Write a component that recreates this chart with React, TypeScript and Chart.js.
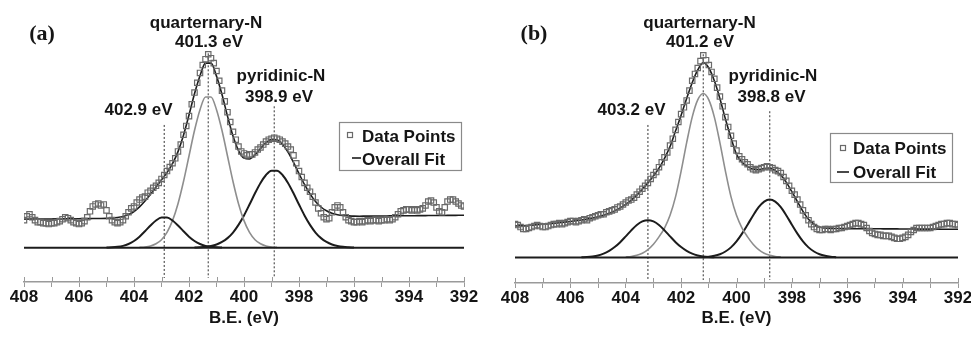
import React, { useEffect, useRef } from 'react';
import { Chart, registerables } from 'chart.js';

Chart.register(...registerables);

// ---------- axis ----------
const tickValues = [408, 407, 406, 405, 404, 403, 402, 401, 400, 399, 398, 397, 396, 395, 394, 393, 392];
const tickLabels = ['408', '406', '404', '402', '400', '398', '396', '394', '392'];
const axisTitle = 'B.E. (eV)';

// ---------- panel (a) ----------
// data points, every 0.1 eV from 408.0 down to 392.0
const dataA = [
  28, 32, 34, 31, 28, 26, 26, 25, 25, 24,
  25, 25, 26, 27, 29, 31, 30, 28, 26, 25,
  24, 25, 27, 31, 37, 42, 44, 45, 43, 44,
  38, 32, 28, 26, 25, 26, 28, 32, 36, 40,
  42, 46, 49, 51, 52, 56, 58, 61, 63, 66,
  70, 74, 78, 82, 86, 91, 98, 105, 115, 124,
  134, 146, 158, 168, 178, 186, 192, 197, 193, 188,
  180, 170, 160, 149, 138, 128, 118, 110, 103, 98,
  96, 94, 95, 95, 97, 100, 102, 105, 108, 110,
  111, 112, 111, 110, 108, 106, 103, 100, 94, 86,
  78, 72, 66, 61, 57, 52, 46, 40, 35, 31,
  29, 30, 36, 41, 43, 41, 36, 31, 28, 27,
  26, 26, 27, 26, 27, 28, 27, 28, 28, 27,
  28, 28, 29, 28, 29, 31, 34, 37, 38, 39,
  39, 38, 39, 38, 39, 40, 43, 47, 48, 46,
  41, 37, 36, 41, 47, 49, 49, 47, 45, 43,
  42,
];
// overall fit, every 0.2 eV from 408.0 down to 392.0
const fitA = [
  29.0, 29.05, 29.1, 29.15, 29.2, 29.25, 29.3, 29.35, 29.4, 29.45,
  29.5, 29.55, 29.6, 29.65, 29.7, 29.85, 30.1, 30.65, 31.7, 33.65,
  36.8, 41.55, 47.5, 54.45, 61.8, 68.95, 76.4, 85.55, 97.8, 114.55,
  135.1, 156.85, 175.2, 188.0, 188.0, 174.75, 156.0, 133.95, 113.7, 98.95,
  91.3, 90.45, 94.6, 100.95, 106.9, 110.35, 110.0, 105.35, 97.3, 86.85,
  75.4, 64.35, 54.8, 47.05, 41.4, 37.55, 35.0, 33.55, 32.7, 32.35,
  32.1, 32.05, 32.1, 32.15, 32.2, 32.25, 32.3, 32.35, 32.4, 32.45,
  32.5, 32.55, 32.6, 32.65, 32.7, 32.75, 32.8, 32.85, 32.9, 32.95,
  33.0,
];
// fitted components, every 0.2 eV from the given start energy
const compA1Start = 405.0; // 402.9 eV peak
const compA1 = [0.1, 0.3, 0.8, 1.8, 3.7, 6.8, 11.2, 16.7, 22.6, 27.7, 30.6, 30.6, 27.7, 22.6, 16.7, 11.2, 6.8, 3.7, 1.8, 0.8, 0.3, 0.1];
const compA2Start = 403.8; // quarternary-N
const compA2 = [0.3, 0.7, 1.7, 3.9, 8.1, 15.5, 27.5, 44.8, 67.4, 93.4, 119.3, 140.5, 153.5, 153.5, 140.5, 119.3, 93.4, 67.4, 44.8, 27.5, 15.5, 8.1, 3.9, 1.7, 0.7, 0.3];
const compA3Start = 401.8; // pyridinic-N
const compA3 = [0.2, 0.4, 0.8, 1.7, 3.2, 5.8, 9.7, 15.4, 23.2, 32.8, 43.9, 55.4, 65.9, 74.0, 78.4, 78.4, 74.0, 65.9, 55.4, 43.9, 32.8, 23.2, 15.4, 9.7, 5.8, 3.2, 1.7, 0.8, 0.4, 0.2];
const peaksA = [402.9, 401.3, 398.9];
const peakTopsA = [125, 198, 144];
const dropBottomA = -31;

// ---------- panel (b) ----------
const dataB = [
  34, 33, 31, 29, 29, 30, 31, 32, 33, 32,
  31, 31, 32, 33, 34, 34, 35, 34, 35, 36,
  37, 37, 36, 37, 38, 39, 38, 40, 41, 42,
  43, 44, 44, 46, 47, 48, 49, 51, 52, 54,
  56, 58, 59, 61, 64, 67, 70, 73, 76, 80,
  84, 87, 92, 97, 102, 107, 114, 121, 130, 138,
  146, 153, 160, 170, 180, 187, 193, 200, 206, 201,
  196, 189, 182, 173, 164, 154, 143, 133, 124, 116,
  109, 103, 100, 97, 95, 92, 90, 89, 90, 91,
  92, 93, 92, 91, 89, 88, 86, 82, 78, 73,
  68, 64, 59, 54, 48, 43, 38, 34, 31, 29,
  28, 28, 29, 29, 28, 29, 29, 30, 30, 31,
  32, 33, 34, 35, 35, 34, 33, 30, 27, 25,
  24, 23, 23, 22, 22, 22, 21, 20, 19, 19,
  20, 21, 23, 26, 28, 30, 30, 30, 30, 30,
  30, 31, 32, 33, 34, 34, 35, 35, 34, 34,
  33,
];
const fitB = [
  32, 32.3, 32.6, 33, 33.4, 33.8, 34.3, 34.8, 35.4, 36,
  36.7, 37.4, 38.2, 39.1, 40.2, 41.5, 43, 45, 47.5, 50.5,
  54, 58.5, 63.5, 69.5, 76, 83, 91, 101, 113, 129,
  145, 162, 178, 191, 198.5, 193, 180, 162, 141, 122,
  105, 97, 92.5, 90, 89.5, 90.5, 91, 88.5, 84, 76.5,
  67, 57, 47, 39, 34, 31, 30, 29.6, 29.5, 29.4,
  29.4, 29.3, 29.3, 29.3, 29.2, 29.2, 29.2, 29.1, 29.1, 29.1,
  29.0, 29.0, 29.0, 28.9, 28.9, 28.9, 28.9, 28.8, 28.8, 28.8,
  28.8,
];
const compB1Start = 405.6; // 403.2 eV peak
const compB1 = [0.2, 0.5, 1.1, 2.1, 3.9, 6.7, 10.6, 15.6, 21.5, 27.6, 33.0, 36.7, 38.0, 36.7, 33.0, 27.6, 21.5, 15.6, 10.6, 6.7, 3.9, 2.1, 1.1, 0.5, 0.2];
const compB2Start = 404.0; // quarternary-N
const compB2 = [0.4, 1.0, 2.2, 4.3, 8, 13.5, 21, 30, 43, 62, 88, 117, 143, 160.5, 167, 160.5, 143, 117, 88, 62, 43, 30, 21, 13.5, 8, 4.3, 2.2, 1.0, 0.4];
const compB3Start = 401.2; // pyridinic-N
const compB3 = [0.35, 0.8, 1.7, 3.3, 6.1, 10.3, 16.4, 24.3, 33.4, 42.8, 51.2, 56.9, 59, 56.9, 51.2, 42.8, 33.4, 24.3, 16.4, 10.3, 6.1, 3.3, 1.7, 0.8, 0.35];
const peaksB = [403.2, 401.2, 398.8];
const peakTopsB = [135, 207, 149];
const dropBottomB = -23;

const legendLabels = ['Data Points', 'Overall Fit'];

// ---------- helpers ----------
const FONT = "'Liberation Sans', Arial, Helvetica, sans-serif";
const SERIF = "'Liberation Serif', 'Times New Roman', serif";

const seq = (start: number, step: number, values: number[]) =>
  values.map((y, i) => ({ x: Math.round((start - i * step) * 10) / 10, y }));

type Txt = { text: string; x: number; y: number; font: string };

interface PanelCfg {
  left: number;
  width: number;
  padL: number;
  padR: number;
  axisH: number;
  yMin: number;
  yMax: number;
  data: number[];
  fit: number[];
  comps: { start: number; values: number[]; color: string; width: number }[];
  peaks: number[];
  tops: number[];
  dropBottom: number;
  texts: Txt[];
  legend: { x: number; y: number; w: number; h: number; sqX: number; sqY: number; lnX1: number; lnX2: number; lnY: number; textX: number; t1Y: number; t2Y: number };
}

const LBL = `bold 17px ${FONT}`;

const panelA: PanelCfg = {
  left: 0,
  width: 485,
  padL: 24,
  padR: 21,
  axisH: 55,
  yMin: -35,
  yMax: 247,
  data: dataA,
  fit: fitA,
  comps: [
    { start: compA1Start, values: compA1, color: '#1c1c1c', width: 2 },
    { start: compA2Start, values: compA2, color: '#8e8e8e', width: 1.6 },
    { start: compA3Start, values: compA3, color: '#1c1c1c', width: 2 },
  ],
  peaks: peaksA,
  tops: peakTopsA,
  dropBottom: dropBottomA,
  texts: [
    { text: '(a)', x: 42, y: 40, font: `bold 22px ${SERIF}` },
    { text: 'quarternary-N', x: 206, y: 27.5, font: LBL },
    { text: '401.3 eV', x: 209, y: 46.5, font: LBL },
    { text: 'pyridinic-N', x: 281, y: 80.5, font: LBL },
    { text: '398.9 eV', x: 279, y: 102, font: LBL },
    { text: '402.9 eV', x: 138.5, y: 115, font: LBL },
  ],
  legend: { x: 339, y: 122, w: 122, h: 48, sqX: 350, sqY: 135, lnX1: 352, lnX2: 361, lnY: 158, textX: 362, t1Y: 141.5, t2Y: 164.5 },
};

const panelB: PanelCfg = {
  left: 485,
  width: 486,
  padL: 30,
  padR: 13,
  axisH: 54,
  yMin: -26,
  yMax: 257,
  data: dataB,
  fit: fitB,
  comps: [
    { start: compB1Start, values: compB1, color: '#1c1c1c', width: 2 },
    { start: compB2Start, values: compB2, color: '#8e8e8e', width: 1.6 },
    { start: compB3Start, values: compB3, color: '#1c1c1c', width: 2 },
  ],
  peaks: peaksB,
  tops: peakTopsB,
  dropBottom: dropBottomB,
  texts: [
    { text: '(b)', x: 534, y: 40, font: `bold 22px ${SERIF}` },
    { text: 'quarternary-N', x: 699.5, y: 27.5, font: LBL },
    { text: '401.2 eV', x: 700, y: 46.5, font: LBL },
    { text: 'pyridinic-N', x: 773, y: 80.5, font: LBL },
    { text: '398.8 eV', x: 771.5, y: 102, font: LBL },
    { text: '403.2 eV', x: 631.5, y: 115, font: LBL },
  ],
  legend: { x: 830, y: 133, w: 122, h: 49, sqX: 843, sqY: 148, lnX1: 837, lnX2: 849, lnY: 172, textX: 853, t1Y: 153.5, t2Y: 178 },
};

function buildConfig(p: PanelCfg): any {
  const datasets: any[] = [
    {
      label: legendLabels[0],
      data: seq(408, 0.1, p.data),
      showLine: false,
      pointStyle: 'rect',
      pointRadius: 3.8,
      pointBorderWidth: 1.2,
      pointBorderColor: '#6a6a6a',
      pointBackgroundColor: 'rgba(255,255,255,0)',
      borderColor: '#6a6a6a',
      order: 0,
    },
    {
      label: legendLabels[1],
      data: seq(408, 0.2, p.fit),
      borderColor: '#1c1c1c',
      borderWidth: 1.6,
      pointRadius: 0,
      cubicInterpolationMode: 'monotone',
      order: 1,
    },
    ...p.comps.map((c, i) => ({
      label: 'comp' + i,
      data: seq(c.start, 0.2, c.values),
      borderColor: c.color,
      borderWidth: c.width,
      pointRadius: 0,
      cubicInterpolationMode: 'monotone',
      order: 3,
    })),
    {
      label: 'baseline',
      data: [
        { x: 408, y: 0 },
        { x: 392, y: 0 },
      ],
      borderColor: '#1c1c1c',
      borderWidth: 2,
      pointRadius: 0,
      order: 2,
    },
    ...p.peaks.map((e, i) => ({
      label: 'peak' + i,
      data: [
        { x: e, y: p.tops[i] },
        { x: e, y: p.dropBottom },
      ],
      borderColor: '#555',
      borderWidth: 1.2,
      borderDash: [2, 2],
      pointRadius: 0,
      order: 4,
    })),
  ];

  const overlay = {
    id: 'overlay' + p.left,
    afterDraw(chart: any) {
      const ctx = chart.ctx;
      const xs = chart.scales.x;
      ctx.save();
      // upper half of the cross ticks
      ctx.strokeStyle = '#9a9a9a';
      ctx.lineWidth = 1;
      xs.ticks.forEach((t: any) => {
        const px = Math.round(xs.getPixelForValue(t.value)) + 0.5;
        ctx.beginPath();
        ctx.moveTo(px, xs.top - 5);
        ctx.lineTo(px, xs.top);
        ctx.stroke();
      });
      // annotations
      ctx.fillStyle = '#151515';
      ctx.textAlign = 'center';
      ctx.textBaseline = 'alphabetic';
      p.texts.forEach((t) => {
        ctx.font = t.font;
        ctx.fillText(t.text, t.x - p.left, t.y);
      });
      // legend
      const L = p.legend;
      const ox = -p.left;
      ctx.fillStyle = '#ffffff';
      ctx.fillRect(L.x + ox, L.y, L.w, L.h);
      ctx.strokeStyle = '#8a8a8a';
      ctx.lineWidth = 1.2;
      ctx.strokeRect(L.x + ox + 0.5, L.y + 0.5, L.w, L.h);
      ctx.strokeStyle = '#6a6a6a';
      ctx.lineWidth = 1.2;
      ctx.strokeRect(L.sqX + ox - 2.5, L.sqY - 2.5, 5, 5);
      ctx.strokeStyle = '#1c1c1c';
      ctx.lineWidth = 1.6;
      ctx.beginPath();
      ctx.moveTo(L.lnX1 + ox, L.lnY);
      ctx.lineTo(L.lnX2 + ox, L.lnY);
      ctx.stroke();
      ctx.fillStyle = '#151515';
      ctx.textAlign = 'left';
      ctx.font = LBL;
      ctx.fillText(legendLabels[0], L.textX + ox, L.t1Y);
      ctx.fillText(legendLabels[1], L.textX + ox, L.t2Y);
      ctx.restore();
    },
  };

  return {
    type: 'line',
    data: { datasets },
    options: {
      animation: false,
      responsive: false,
      maintainAspectRatio: false,
      devicePixelRatio: 1,
      layout: { padding: { left: p.padL, right: p.padR, top: 0, bottom: 0 } },
      plugins: { legend: { display: false }, tooltip: { enabled: false }, title: { display: false } },
      scales: {
        x: {
          type: 'linear',
          reverse: true,
          min: 392,
          max: 408,
          afterBuildTicks: (scale: any) => {
            scale.ticks = tickValues.map((v) => ({ value: v }));
          },
          afterFit: (scale: any) => {
            scale.height = p.axisH;
            scale.paddingLeft = 0;
            scale.paddingRight = 0;
          },
          ticks: {
            autoSkip: false,
            maxRotation: 0,
            minRotation: 0,
            padding: 0,
            color: '#151515',
            font: { family: FONT, size: 17, weight: 'bold' },
            callback: (v: any) => {
              const s = String(v);
              return tickLabels.includes(s) ? s : '';
            },
          },
          grid: { drawOnChartArea: false, drawTicks: true, tickLength: 5, color: '#9a9a9a', lineWidth: 1 },
          border: { display: true, color: '#9a9a9a', width: 1.5 },
          title: {
            display: true,
            text: axisTitle,
            color: '#151515',
            font: { family: FONT, size: 17, weight: 'bold' },
            padding: { top: 0, bottom: 8 },
          },
        },
        y: { display: false, min: p.yMin, max: p.yMax },
      },
    },
    plugins: [overlay],
  };
}

function Panel({ cfg }: { cfg: PanelCfg }) {
  const ref = useRef<HTMLCanvasElement | null>(null);
  useEffect(() => {
    if (!ref.current) return;
    const chart = new Chart(ref.current, buildConfig(cfg));
    return () => chart.destroy();
  }, [cfg]);
  return (
    <canvas
      ref={ref}
      width={cfg.width}
      height={337}
      style={{ position: 'absolute', left: cfg.left, top: 0, width: cfg.width, height: 337, display: 'block' }}
    />
  );
}

export default function App() {
  return (
    <div style={{ position: 'absolute', left: 0, top: 0, width: 971, height: 337, background: '#ffffff', overflow: 'hidden' }}>
      <Panel cfg={panelA} />
      <Panel cfg={panelB} />
    </div>
  );
}
